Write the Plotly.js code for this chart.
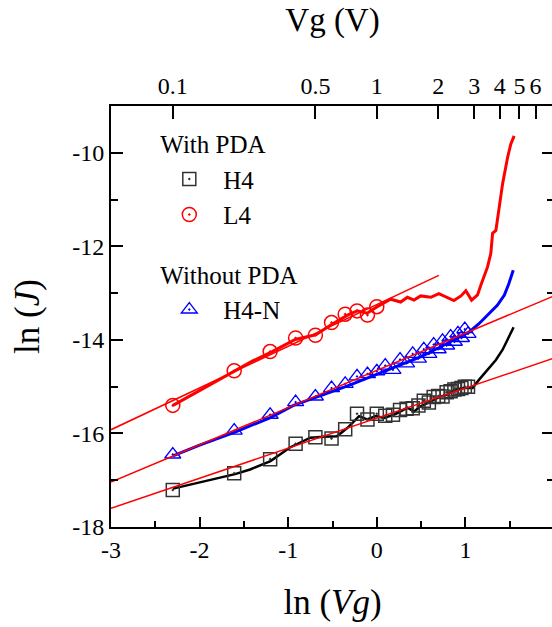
<!DOCTYPE html>
<html>
<head>
<meta charset="utf-8">
<script src="https://cdn.plot.ly/plotly-3.0.1.min.js"></script>
<style>
html,body{margin:0;padding:0;overflow:hidden;background:#fff;}
#chart{width:554px;height:627px;}
</style>
</head>
<body>
<div id="chart"></div>
<script>
// ---- Data ----
// Marker series: Vg (V) and ln(J)
var vgL4 = [0.1,0.2,0.3,0.4,0.5,0.6,0.7,0.8,0.9,1.0];
var lnJL4 = [-15.40,-14.66,-14.25,-13.96,-13.90,-13.63,-13.45,-13.38,-13.47,-13.29];

var vgH4 = [0.1,0.2,0.3,0.4,0.5,0.6,0.7,0.8,0.9,1.0,1.1,1.2,1.3,1.4,1.5,1.6,1.7,1.8,1.9,2.0,2.1,2.2,2.3,2.4,2.5,2.6,2.7,2.8];
var lnJH4 = [-17.21,-16.85,-16.55,-16.22,-16.08,-16.11,-15.91,-15.58,-15.70,-15.58,-15.62,-15.60,-15.50,-15.47,-15.46,-15.40,-15.30,-15.34,-15.22,-15.20,-15.21,-15.12,-15.10,-15.06,-15.05,-15.03,-15.00,-15.00];

var vgH4N = [0.1,0.2,0.3,0.4,0.5,0.6,0.7,0.8,0.9,1.0,1.1,1.2,1.3,1.4,1.5,1.6,1.7,1.8,1.9,2.0,2.1,2.2,2.3,2.4,2.5,2.6,2.7,2.8];
var lnJH4N = [-16.45,-15.94,-15.60,-15.33,-15.21,-15.03,-14.94,-14.78,-14.73,-14.67,-14.55,-14.64,-14.42,-14.50,-14.30,-14.40,-14.20,-14.30,-14.10,-14.20,-14.02,-14.12,-13.93,-14.04,-13.86,-13.96,-13.77,-13.87];

// Continuous measured curves: ln(Vg) and ln(J)
var lineL4x = [-2.30,-1.95,-1.62,-1.40,-1.18,-0.92,-0.69,-0.52,-0.33,-0.22,-0.11,0.005,0.156,0.27,0.345,0.42,0.495,0.61,0.70,0.80,0.87,0.95,1.005,1.07,1.137,1.174,1.25,1.287,1.307,1.344,1.381,1.42,1.476,1.513,1.55];
var lineL4y = [-15.40,-15.03,-14.67,-14.45,-14.25,-13.99,-13.89,-13.68,-13.47,-13.38,-13.43,-13.29,-13.13,-13.19,-13.09,-13.15,-13.06,-13.09,-13.01,-13.09,-13.16,-13.06,-12.95,-13.15,-13.04,-12.83,-12.44,-12.15,-11.72,-11.66,-11.16,-10.66,-10.10,-9.81,-9.64];

var lineH4Nx = [-2.30,-2.0,-1.6,-1.2,-0.94,-0.71,-0.5,-0.3,0,0.25,0.5,0.75,0.95,1.05,1.15,1.25,1.36,1.44,1.49,1.54];
var lineH4Ny = [-16.48,-16.25,-15.97,-15.66,-15.40,-15.25,-15.10,-14.96,-14.74,-14.55,-14.36,-14.12,-13.92,-13.82,-13.66,-13.47,-13.26,-13.04,-12.80,-12.51];

var lineH4x = [-2.30,-1.95,-1.60,-1.43,-1.20,-0.98,-0.75,-0.60,-0.45,-0.33,-0.20,-0.11,-0.01,0.08,0.19,0.27,0.345,0.42,0.495,0.57,0.65,0.72,0.80,0.89,0.985,1.08,1.155,1.25,1.344,1.42,1.476,1.544];
var lineH4y = [-17.18,-17.03,-16.87,-16.77,-16.59,-16.30,-16.09,-16.07,-16.06,-15.88,-15.63,-15.70,-15.63,-15.67,-15.60,-15.53,-15.45,-15.53,-15.42,-15.35,-15.28,-15.21,-15.17,-15.06,-15.03,-15.03,-14.85,-14.64,-14.43,-14.21,-14.00,-13.73];

// Linear fits (end points)
var fitL4x = [-3, 0.70],  fitL4y = [-15.92, -12.62];
var fitH4Nx = [-3, 2],    fitH4Ny = [-17.04, -13.06];
var fitH4x = [-3, 2],     fitH4y = [-17.60, -14.39];

// Tick labels
var xTickVals = [-3,-2,-1,0,1,2];
var xTickText = ['-3','-2','-1','0','1','2'];
var yTickVals = [-18,-16,-14,-12,-10];
var yTickText = ['-18','-16','-14','-12','-10'];
var topTicks = [0.1, 0.5, 1, 2, 3, 4, 5, 6];
var topTickText = ['0.1','0.5','1','2','3','4','5','6'];

// ---- Chart ----
var FONT = 'Liberation Serif, Times New Roman, serif';
function ln(a){ return a.map(function(v){ return Math.log(v); }); }

var traces = [
  {x: lineH4x, y: lineH4y, mode:'lines', line:{color:'#000', width:2.5}, showlegend:false, hoverinfo:'skip'},
  {x: lineH4Nx, y: lineH4Ny, mode:'lines', line:{color:'#0000ff', width:3}, showlegend:false, hoverinfo:'skip'},
  {x: lineL4x, y: lineL4y, mode:'lines', line:{color:'#ff0000', width:3}, showlegend:false, hoverinfo:'skip'},
  {x: ln(vgH4), y: lnJH4, mode:'markers', name:'H4', legendgroup:'with',
   legendgrouptitle:{text:'With PDA', font:{family:FONT, size:25, color:'#000'}},
   marker:{symbol:'square-open-dot', size:13, color:'#333', line:{width:1.5}}},
  {x: ln(vgL4), y: lnJL4, mode:'markers', name:'L4', legendgroup:'with',
   marker:{symbol:'circle-open-dot', size:14, color:'#ff0000', line:{width:1.5}}},
  {x: ln(vgH4N), y: lnJH4N, mode:'markers', name:'H4-N', legendgroup:'without',
   legendgrouptitle:{text:'Without PDA', font:{family:FONT, size:25, color:'#000'}},
   marker:{symbol:'triangle-up-open-dot', size:14, color:'#0000ff', line:{width:1.3}}},
  {x: fitL4x, y: fitL4y, mode:'lines', line:{color:'#ff0000', width:1.5}, showlegend:false, hoverinfo:'skip'},
  {x: fitH4Nx, y: fitH4Ny, mode:'lines', line:{color:'#ff0000', width:1.5}, showlegend:false, hoverinfo:'skip'},
  {x: fitH4x, y: fitH4y, mode:'lines', line:{color:'#ff0000', width:1.5}, showlegend:false, hoverinfo:'skip'},
  {x: [], y: [], xaxis:'x2', yaxis:'y', mode:'lines', showlegend:false, hoverinfo:'skip'}
];

var layout = {
  width: 554, height: 627,
  margin: {l:111, r:0, t:106, b:100},
  paper_bgcolor:'#fff', plot_bgcolor:'#fff',
  font: {family: FONT, color:'#000', size:24},
  showlegend: true,
  legend: {x:0.1, y:0.965, xanchor:'left', yanchor:'top', bgcolor:'rgba(0,0,0,0)',
           font:{family:FONT, size:25, color:'#000'}, tracegroupgap:24, itemwidth:58},
  xaxis: {
    range:[-3,2], tickmode:'array', tickvals:xTickVals, ticktext:xTickText,
    ticks:'inside', ticklen:10, tickwidth:2, tickcolor:'#000',
    minor:{tickmode:'linear', tick0:-3, dtick:0.5, ticks:'inside', ticklen:6, tickwidth:2, tickcolor:'#000'},
    showline:true, linewidth:2, linecolor:'#000', mirror:false,
    showgrid:false, zeroline:false,
    tickfont:{family:FONT, size:24, color:'#000'},
    title:{text:'ln (<i>Vg</i>)', font:{family:FONT, size:35, color:'#000'}, standoff:28},
    automargin:false
  },
  xaxis2: {
    overlaying:'x', side:'top', anchor:'y', range:[-3,2],
    tickmode:'array', tickvals: ln(topTicks), ticktext: topTickText,
    ticks:'inside', ticklen:13, tickwidth:2, tickcolor:'#000',
    showline:true, linewidth:2, linecolor:'#000',
    showgrid:false, zeroline:false,
    tickfont:{family:FONT, size:24, color:'#000'},
    title:{text:'Vg (V)', font:{family:FONT, size:33, color:'#000'}, standoff:32},
    automargin:false
  },
  yaxis: {
    range:[-18,-9], tickmode:'array', tickvals:yTickVals, ticktext:yTickText,
    ticks:'inside', ticklen:12, tickwidth:2, tickcolor:'#000',
    minor:{tickmode:'linear', tick0:-18, dtick:1, ticks:'inside', ticklen:7, tickwidth:2, tickcolor:'#000'},
    showline:true, linewidth:2, linecolor:'#000', mirror:'ticks',
    showgrid:false, zeroline:false,
    tickfont:{family:FONT, size:24, color:'#000'},
    title:{text:'ln (<i>J</i>)', font:{family:FONT, size:35, color:'#000'}, standoff:22},
    automargin:false
  }
};

Plotly.newPlot('chart', traces, layout, {staticPlot:true, displayModeBar:false});
</script>
</body>
</html>
